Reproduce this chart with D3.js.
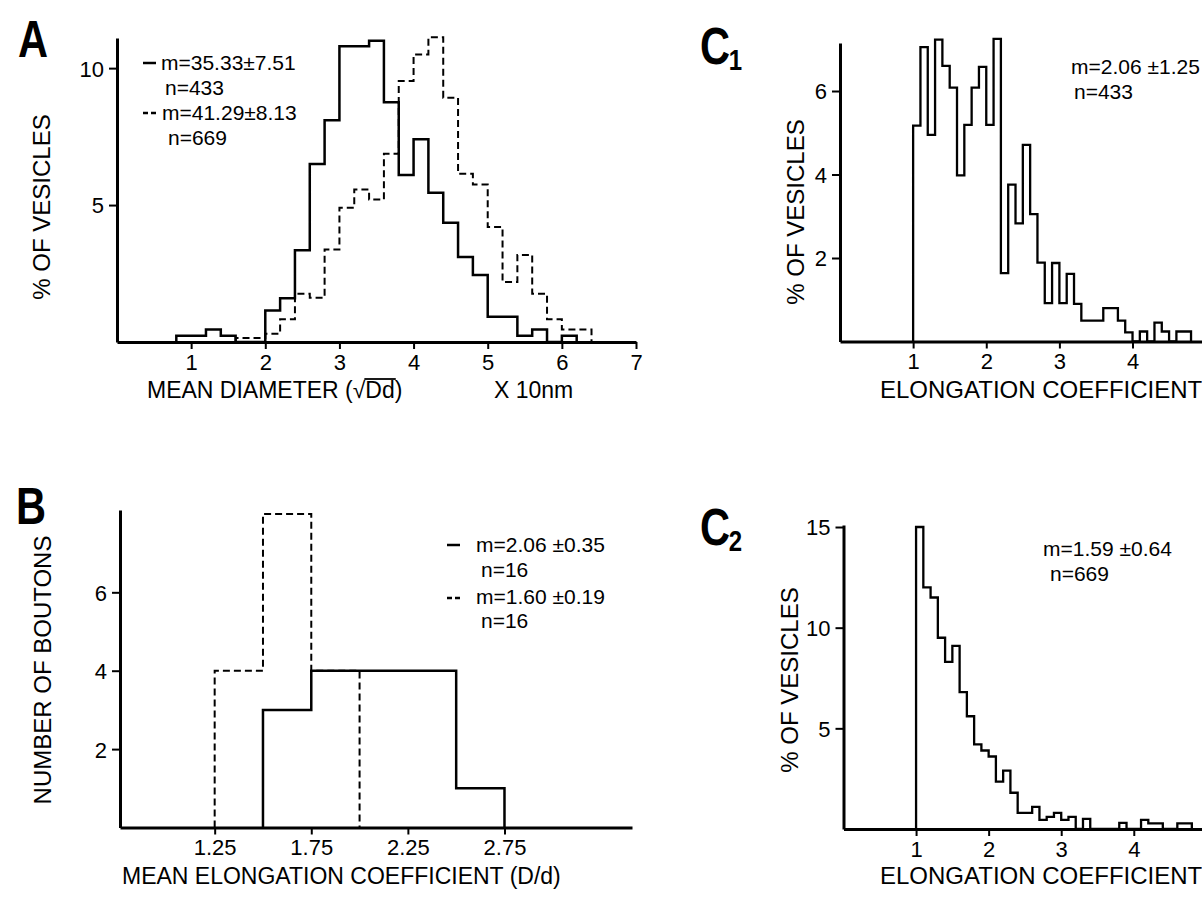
<!DOCTYPE html>
<html><head><meta charset="utf-8">
<script src="https://cdn.jsdelivr.net/npm/d3@7"></script>
<style>
body{margin:0;background:#fff;}
svg text{font-family:"Liberation Sans",Arial,Helvetica,sans-serif;fill:#000;}
</style></head><body>
<svg id="chart" width="1202" height="897"></svg>
<script>
// ---------- DATA ----------
// Panel A: mean diameter (x10 nm), bins of 0.2
const aBinWidth = 0.2;
const aSolidStart = 0.8;
const aSolidPct = [0.23,0.23,0.46,0.23,0,0,1.15,1.6,3.35,6.5,8.1,10.8,10.8,11.0,8.75,6.1,7.4,5.45,4.35,3.1,2.45,0.92,0.92,0.23,0.46,0,0.23];
const aDashedStart = 1.6;
const aDashedPct = [0.15,0.15,0.3,0.83,1.76,1.62,3.38,4.9,5.57,5.2,6.87,9.53,10.5,11.13,8.92,6.14,5.75,4.2,2.19,3.18,1.76,0.83,0.46,0.46];
const aXTicks = [1,2,3,4,5,6,7];
const aYTicks = [5,10];
const aLegend = ["m=35.33\u00B17.51","n=433","m=41.29\u00B18.13","n=669"];

// Panel B: mean elongation coefficient, bins of 0.25
const bBinStart = 1.25;
const bBinWidth = 0.25;
const bSolidCount = [0,3,4,4,4,1];
const bDashedCount = [4,8,4,0,0,0];
const bXTicks = [1.25,1.75,2.25,2.75];
const bYTicks = [2,4,6];
const bLegend = ["m=2.06 \u00B10.35","n=16","m=1.60 \u00B10.19","n=16"];

// Panel C1 / C2: elongation coefficient, bins of 0.1
const cBinWidth = 0.1;
const c1Start = 1.0;
const c1Pct = [5.17,7.05,4.95,7.23,6.6,6.08,3.98,5.19,6.08,6.58,5.19,7.25,1.64,3.76,2.83,4.71,3.05,1.89,0.92,1.88,0.92,1.62,0.9,0.5,0.5,0.5,0.8,0.8,0.5,0.22,0,0.24,0,0.45,0.24,0,0.24,0.24];
const c2Start = 1.0;
const c2Pct = [15.0,12.0,11.5,9.5,8.3,9.1,6.8,5.6,4.2,3.9,3.6,2.35,2.9,1.8,0.8,0.8,1.1,0.45,0.6,0.8,0.45,0.6,0,0.5,0,0,0,0,0.3,0,0,0.45,0.28,0.28,0,0,0.28,0.28];
const cXTicks = [1,2,3,4];
const c1YTicks = [2,4,6];
const c2YTicks = [5,10,15];
const c1Legend = ["m=2.06 \u00B11.25","n=433"];
const c2Legend = ["m=1.59 \u00B10.64","n=669"];

// ---------- DRAW ----------
const svg = d3.select("#chart");
const FONT = '"Liberation Sans",Arial,Helvetica,sans-serif';

function stepPoints(start, width, vals){
  let first = vals.findIndex(v => v > 0);
  let last = vals.length - 1 - [...vals].reverse().findIndex(v => v > 0);
  const pts = [[start + first*width, 0]];
  for (let i = first; i <= last; i++){
    pts.push([start + i*width, vals[i]]);
    pts.push([start + (i+1)*width, vals[i]]);
  }
  pts.push([start + (last+1)*width, 0]);
  return pts;
}

function histo(x, y, start, width, vals, dashed, sw){
  const line = d3.line().x(d => x(d[0])).y(d => y(d[1]));
  svg.append("path")
    .attr("d", line(stepPoints(start, width, vals)))
    .attr("fill","none").attr("stroke","#000")
    .attr("stroke-width", sw || 2.5)
    .attr("stroke-linejoin","miter")
    .attr("stroke-dasharray", dashed ? "7,4" : null);
}

function axes(x, y, xTicks, yTicks, xFmt){
  const [x0] = x.range();
  const [y0] = y.range();
  const gx = svg.append("g").attr("transform",`translate(0,${y0})`)
    .call(d3.axisBottom(x).tickValues(xTicks).tickSize(7).tickSizeOuter(0).tickPadding(5).tickFormat(xFmt || d3.format("d")));
  const gy = svg.append("g").attr("transform",`translate(${x0},0)`)
    .call(d3.axisLeft(y).tickValues(yTicks).tickSize(8).tickSizeOuter(0).tickPadding(5).tickFormat(d3.format("d")));
  [gx, gy].forEach(g => {
    g.attr("font-family", FONT).attr("font-size", 22);
    g.select(".domain").attr("stroke-width", 3).attr("stroke","#000");
    g.selectAll(".tick line").attr("stroke-width", 2).attr("stroke","#000");
    g.selectAll(".tick text").attr("fill","#000");
  });
  gy.selectAll(".tick text").attr("dy","0.36em");
}

function label(txt, xPos, yPos, size, anchor){
  return svg.append("text").attr("x", xPos).attr("y", yPos)
    .attr("font-size", size).attr("text-anchor", anchor || "start").text(txt);
}
function yTitle(txt, cx, cy){
  svg.append("text").attr("transform",`translate(${cx},${cy}) rotate(-90)`)
    .attr("text-anchor","middle").attr("dy","0.36em").attr("font-size",24).text(txt);
}
function panelLetter(txt, sub, xPos, yPos){
  const g = svg.append("g").attr("transform",`translate(${xPos},${yPos}) scale(0.8,1)`);
  g.append("text").attr("font-size",52).attr("font-weight","bold").text(txt);
  if (sub) g.append("text").attr("x",36).attr("y",6).attr("font-size",30).attr("font-weight","bold").text(sub);
}
function legendMark(x1, yPos, dashed){
  svg.append("line").attr("x1",x1).attr("x2",x1+13).attr("y1",yPos).attr("y2",yPos)
    .attr("stroke","#000").attr("stroke-width",2.5).attr("stroke-dasharray", dashed ? "5,3" : null);
}

// ---- Panel A ----
const xA = d3.scaleLinear().domain([0,7]).range([117,636]);
const yA = d3.scaleLinear().domain([0,11.1]).range([342,38]);
histo(xA, yA, aSolidStart, aBinWidth, aSolidPct, false);
histo(xA, yA, aDashedStart, aBinWidth, aDashedPct, true, 2);
axes(xA, yA, aXTicks, aYTicks);
panelLetter("A", null, 18, 57);
yTitle("% OF VESICLES", 41, 207);
legendMark(143, 63, false);
label(aLegend[0], 161, 70, 21);
label(aLegend[1], 165, 95, 21);
legendMark(143, 113, true);
label(aLegend[2], 162, 120, 21);
label(aLegend[3], 168, 145, 21);
{
  const by = 398;
  const t = svg.append("text").attr("x",147).attr("y",by).attr("font-size",23);
  t.append("tspan").text("MEAN DIAMETER (");
  t.append("tspan").text("\u221A");
  t.append("tspan").text("Dd");
  t.append("tspan").text(")");
  const node = t.node();
  const full = "MEAN DIAMETER (\u221ADd)";
  const iRoot = full.indexOf("\u221A");
  const xs = node.getEndPositionOfChar(iRoot).x;
  const xe = node.getEndPositionOfChar(iRoot+2).x;
  svg.append("line").attr("x1",xs-1).attr("x2",xe+1).attr("y1",by-19).attr("y2",by-19)
    .attr("stroke","#000").attr("stroke-width",1.8);
  label("X 10nm", 494, by, 23);
}

// ---- Panel B ----
const xB = d3.scaleLinear().domain([0.76,3.41]).range([120,632]);
const yB = d3.scaleLinear().domain([0,8.1]).range([827.5,510]);
histo(xB, yB, bBinStart, bBinWidth, bDashedCount, true, 2);
histo(xB, yB, bBinStart, bBinWidth, bSolidCount, false);
axes(xB, yB, bXTicks, bYTicks, d3.format(".2f"));
panelLetter("B", null, 16, 524);
yTitle("NUMBER OF BOUTONS", 42, 670);
legendMark(447, 545, false);
label(bLegend[0], 476, 552, 21);
label(bLegend[1], 481, 577, 21);
legendMark(447, 598, true);
label(bLegend[2], 476, 604, 21);
label(bLegend[3], 481, 628, 21);
label("MEAN ELONGATION COEFFICIENT (D/d)", 122, 884, 23);

// ---- Panel C1 ----
const xC1 = d3.scaleLinear().domain([0,4.95]).range([840,1202]);
const yC1 = d3.scaleLinear().domain([0,7.15]).range([341.5,43]);
histo(xC1, yC1, c1Start, cBinWidth, c1Pct, false, 2.3);
axes(xC1, yC1, cXTicks, c1YTicks);
panelLetter("C", "1", 700, 64);
yTitle("% OF VESICLES", 795, 212);
label(c1Legend[0], 1071, 74, 21);
label(c1Legend[1], 1074, 99, 21);
label("ELONGATION COEFFICIENT", 880, 398, 24);

// ---- Panel C2 ----
const xC2 = d3.scaleLinear().domain([0,4.94]).range([843.5,1202]);
const yC2 = d3.scaleLinear().domain([0,15.1]).range([829,525]);
histo(xC2, yC2, c2Start, cBinWidth, c2Pct, false, 2.3);
axes(xC2, yC2, cXTicks, c2YTicks);
panelLetter("C", "2", 700, 545);
yTitle("% OF VESICLES", 789, 680);
label(c2Legend[0], 1043, 556, 21);
label(c2Legend[1], 1050, 581, 21);
label("ELONGATION COEFFICIENT", 880, 884, 24);
</script>
</body></html>
